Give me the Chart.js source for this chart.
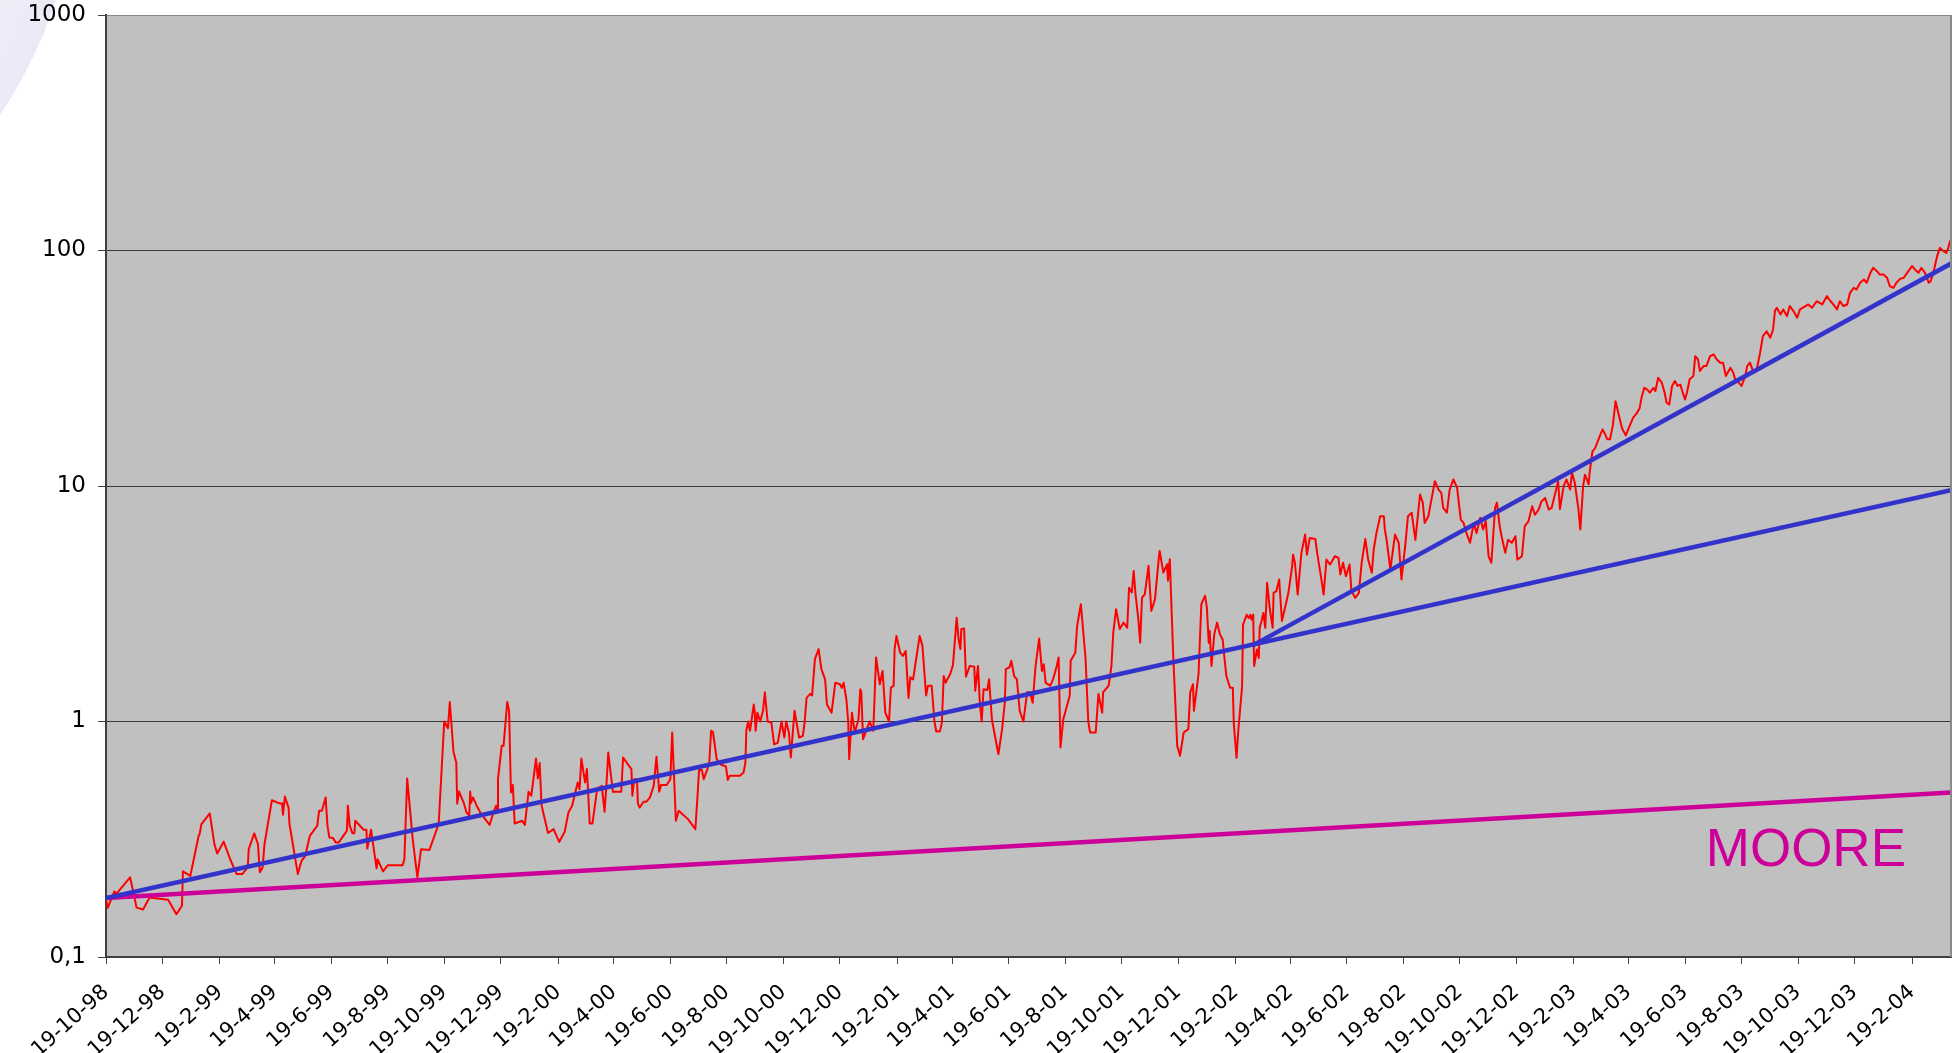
<!DOCTYPE html>
<html>
<head>
<meta charset="utf-8">
<title>Rendimiento vs Moore</title>
<script src="https://cdn.jsdelivr.net/npm/chart.js@4.4.0/dist/chart.umd.min.js"></script>
<style>
  html, body { margin: 0; padding: 0; background: #ffffff; overflow: hidden; }
  #wrap { position: relative; width: 1959px; height: 1053px; }
  #swoosh {
    position: absolute; left: -880px; top: -630px; width: 960px; height: 960px;
    border-radius: 50%;
    background: radial-gradient(circle closest-side, #f8f8fd 0%, #f1f1fa 80%, #eaeaf7 100%);
  }
  #chart { position: absolute; left: 0; top: 0; }
</style>
</head>
<body>
<div id="wrap">
  <div id="swoosh"></div>
  <canvas id="chart" width="1959" height="1053"></canvas>
</div>
<script>
// x axis: days counted from 19-10-98
var tickLabels = ['19-10-98', '19-12-98', '19-2-99', '19-4-99', '19-6-99', '19-8-99', '19-10-99', '19-12-99',
  '19-2-00', '19-4-00', '19-6-00', '19-8-00', '19-10-00', '19-12-00', '19-2-01', '19-4-01', '19-6-01',
  '19-8-01', '19-10-01', '19-12-01', '19-2-02', '19-4-02', '19-6-02', '19-8-02', '19-10-02', '19-12-02',
  '19-2-03', '19-4-03', '19-6-03', '19-8-03', '19-10-03', '19-12-03', '19-2-04'];
var lastDay = 1991;

var yTickValues = [0.1, 1, 10, 100, 1000];
var yTickLabels = ['0,1', '1', '10', '100', '1000'];

// red series
var redDays = [0, 2, 9, 11, 26, 33, 40, 47, 67, 76, 82, 83, 91, 100, 101, 103, 112, 117, 120, 127, 134, 141, 147,
  153, 154, 160, 164, 166, 169, 171, 179, 188, 190, 191, 193, 197, 198, 207, 211, 215, 220, 228, 230, 233, 237,
  239, 241, 245, 248, 251, 260, 261, 263, 266, 268, 269, 278, 281, 282, 286, 289, 292, 293, 299, 304, 320, 322,
  325, 331, 336, 340, 349, 359, 365, 369, 371, 375, 378, 379, 381, 386, 389, 392, 393, 394, 396, 400,
  405, 414, 418, 421, 422, 423, 427, 429, 433, 435, 437, 439, 441, 449, 452, 456, 459, 464, 466, 468, 470, 477,
  483, 489, 495, 499, 503, 509, 511, 513, 517, 519, 522, 525, 530, 535, 538, 540, 542, 547, 556, 558, 567, 568,
  570, 573, 574, 576, 580, 583, 587, 591, 594, 597, 599, 605, 609, 611, 615, 618, 628, 636, 638, 640, 643, 645,
  649, 651, 653, 655, 659, 664, 669, 671, 673, 684, 688, 690, 691, 693, 695, 699, 700, 701, 703, 706, 709, 711,
  714, 718, 721, 725, 729, 732, 734, 737, 739, 743, 748, 752, 754, 756, 760, 762, 765, 769, 772, 776, 778, 783,
  787, 792, 794, 796, 799, 801, 802,
  805, 808, 812, 814, 815, 817, 821, 824, 828, 831, 835, 838, 841, 845, 847, 850, 851, 853, 857, 860, 863, 866,
  868, 871, 878, 881, 885, 887, 891, 894, 896, 900, 902, 904, 906, 911, 914, 918, 920, 922, 923, 926, 928, 932,
  937, 938, 941, 943, 945, 947, 951, 953, 956, 963, 967, 970, 971, 975, 977, 980, 983, 986, 990, 994, 997, 1000,
  1003, 1007, 1010, 1012, 1014, 1019, 1022, 1026, 1028, 1030, 1033, 1040, 1041, 1046, 1048, 1052, 1057, 1060,
  1062, 1068, 1071, 1075, 1076, 1082, 1085, 1087, 1090, 1094, 1098, 1102, 1104, 1107, 1109, 1111, 1114, 1116,
  1118, 1121, 1125, 1128, 1132, 1136, 1137, 1141, 1145, 1146, 1148, 1150, 1152, 1156, 1159, 1163, 1168, 1170,
  1173, 1174, 1179, 1182, 1186, 1188, 1190, 1191, 1193, 1196, 1199, 1202,
  1205, 1207, 1209, 1213, 1216, 1217, 1220, 1222, 1226, 1227, 1231, 1233, 1235, 1236, 1238, 1239, 1242, 1244,
  1245, 1247, 1249, 1251, 1253, 1256, 1259, 1260, 1263, 1266, 1269, 1271, 1276, 1280, 1281, 1283, 1286, 1290,
  1294, 1296, 1299, 1305, 1307, 1311, 1314, 1317, 1321, 1326, 1330, 1332, 1335, 1338, 1342, 1344, 1348, 1352,
  1355, 1359, 1362, 1366, 1368, 1371, 1375, 1379, 1380, 1382, 1386, 1391, 1395, 1398, 1402, 1405, 1409, 1413,
  1418, 1421, 1423, 1427, 1431, 1434, 1438, 1441, 1443, 1447, 1450, 1454, 1458, 1462, 1465, 1468, 1472, 1476,
  1479, 1483, 1486, 1489, 1492, 1495, 1499, 1501, 1504, 1506, 1510, 1513, 1517, 1521, 1523, 1528, 1531, 1535,
  1539, 1542, 1546, 1549, 1553, 1557, 1560, 1564, 1567, 1569, 1573, 1576, 1580, 1582, 1585, 1589, 1591, 1594,
  1596, 1598, 1600, 1601, 1604, 1607, 1609, 1612,
  1615, 1618, 1620, 1623, 1626, 1629, 1632, 1636, 1640, 1645, 1648, 1652, 1655, 1657, 1660, 1663, 1666, 1670,
  1672, 1675, 1679, 1682, 1684, 1687, 1690, 1693, 1696, 1699, 1701, 1704, 1706, 1709, 1713, 1715, 1718, 1720,
  1724, 1727, 1731, 1735, 1738, 1742, 1745, 1748, 1753, 1756, 1758, 1762, 1765, 1769, 1771, 1774, 1778, 1781,
  1785, 1788, 1792, 1796, 1799, 1801, 1803, 1807, 1810, 1814, 1817, 1821, 1825, 1828, 1834, 1837, 1841, 1846,
  1852, 1857, 1861, 1864, 1868, 1871, 1875, 1879, 1882, 1886, 1889, 1893, 1897, 1900, 1904, 1907, 1911, 1914,
  1918, 1922, 1925, 1929, 1932, 1936, 1940, 1945, 1949, 1952, 1956, 1959, 1963, 1967, 1969, 1972, 1976, 1979,
  1983, 1986, 1988, 1990, 1991];

var redValues = [0.175, 0.162, 0.19, 0.185, 0.218, 0.162, 0.159, 0.179, 0.175, 0.152, 0.165, 0.231, 0.221, 0.327,
  0.332, 0.367, 0.407, 0.301, 0.275, 0.309, 0.26, 0.225, 0.225, 0.24, 0.287, 0.335, 0.301, 0.229, 0.24, 0.301,
  0.463, 0.448, 0.448, 0.402, 0.48, 0.431, 0.367, 0.225, 0.256, 0.269, 0.327, 0.361, 0.418, 0.418, 0.476, 0.361,
  0.322, 0.32, 0.306, 0.306, 0.344, 0.439, 0.361, 0.335, 0.335, 0.379, 0.347, 0.347, 0.289, 0.347, 0.287, 0.238,
  0.26, 0.231, 0.245, 0.245, 0.26, 0.573, 0.316, 0.218, 0.287, 0.285, 0.367, 1.0, 0.937, 1.21, 0.743, 0.67, 0.448,
  0.504, 0.452, 0.411, 0.398, 0.504, 0.452, 0.476, 0.439,
  0.404, 0.364, 0.411, 0.439, 0.424, 0.569, 0.788, 0.788, 1.21, 1.11, 0.5, 0.537, 0.369, 0.379, 0.364, 0.503,
  0.484, 0.696, 0.573, 0.666, 0.441, 0.336, 0.349, 0.308, 0.34, 0.411, 0.439, 0.551, 0.516, 0.696, 0.551, 0.628,
  0.369, 0.369, 0.516, 0.533, 0.414, 0.533, 0.739, 0.503, 0.503, 0.703, 0.628, 0.484, 0.569, 0.569, 0.446, 0.431,
  0.456, 0.456, 0.476, 0.533, 0.708, 0.503, 0.537, 0.537, 0.569, 0.898, 0.379, 0.418, 0.385, 0.349, 0.461, 0.623,
  0.623, 0.569, 0.628, 0.67, 0.913, 0.904, 0.692, 0.655, 0.644, 0.565, 0.588, 0.588, 0.607, 0.67, 0.913, 1.0,
  0.913, 1.18, 1.11, 0.913, 1.09, 1.0, 1.11, 1.33, 1.0, 0.99, 0.8, 0.814, 1.0, 0.855, 1.0, 0.898, 0.703, 1.11,
  0.855, 0.869, 1.0, 1.26, 1.31, 1.29, 1.84, 2.03, 1.67, 1.51, 1.18, 1.09, 1.46, 1.44, 1.39, 1.46, 1.24, 0.99,
  0.692,
  1.09, 0.898, 1.02, 1.37, 1.34, 0.841, 0.928, 1.0, 0.913, 1.87, 1.44, 1.64, 1.09, 1.0, 1.39, 1.42, 2.03, 2.31,
  1.96, 1.9, 1.99, 1.26, 1.54, 1.51, 2.31, 2.1, 1.29, 1.42, 1.42, 1.0, 0.907, 0.91, 0.99, 1.56, 1.46, 1.59, 1.74,
  2.76, 2.24, 2.03, 2.47, 2.48, 1.55, 1.72, 1.71, 1.35, 1.72, 1.2, 1.0, 1.37, 1.36, 1.51, 1.02, 0.726, 0.928,
  1.21, 1.67, 1.7, 1.81, 1.56, 1.51, 1.11, 1.0, 1.33, 1.33, 1.2, 1.7, 2.25, 1.64, 1.75, 1.46, 1.42, 1.51, 1.72,
  1.87, 0.776, 1.02, 1.29, 1.81, 1.96, 2.55, 3.15, 1.87, 1.0, 0.898, 0.898, 1.31, 1.09, 1.33, 1.42, 1.72, 2.39,
  3.0, 2.47, 2.63, 2.5, 3.7, 3.53, 4.36, 3.47, 2.72, 2.16, 3.36, 3.47, 4.58, 2.95, 3.31, 4.89, 5.3, 4.29, 4.65,
  3.96, 4.89, 2.9, 1.78, 0.788, 0.715, 0.898, 0.928, 1.33, 1.44, 1.11, 1.59, 3.15, 3.42, 3.05, 2.16, 2.43, 1.72,
  2.35, 2.63, 2.35,
  2.23, 1.86, 1.56, 1.39, 1.39, 0.987, 0.701, 0.925, 1.41, 2.58, 2.84, 2.75, 2.84, 2.71, 2.84, 1.72, 2.02, 1.86,
  2.5, 2.67, 2.89, 2.5, 3.88, 2.99, 2.5, 3.52, 3.58, 4.01, 2.67, 2.89, 3.52, 4.57, 5.11, 4.72, 3.46, 5.2, 6.22,
  5.11, 6.02, 5.96, 5.2, 4.14, 3.46, 4.87, 4.64, 5.03, 4.95, 4.21, 4.72, 4.14, 4.64, 3.58, 3.35, 3.52, 4.72, 5.96,
  4.87, 4.28, 5.36, 6.32, 7.44, 7.44, 6.54, 5.91, 4.42, 6.22, 5.74, 4.01, 5.56, 7.44, 7.7, 5.91, 9.2, 8.5, 6.97,
  7.44, 9.06, 10.48, 9.66, 9.35, 8.07, 7.7, 9.66, 10.66, 9.85, 7.2, 6.97, 6.32, 5.74, 6.97, 6.32, 7.33, 6.54,
  7.08, 5.03, 4.72, 8.07, 8.5, 6.75, 6.12, 5.2, 5.91, 5.74, 6.12, 4.87, 5.03, 6.75, 7.08, 8.2, 7.55, 7.94, 8.6,
  8.9, 7.94, 8.07, 9.35, 10.48, 7.97, 9.99, 10.66, 9.66, 11.37, 10.33, 7.94, 6.54, 9.99, 11.17, 10.66, 10.17,
  11.37, 14.0, 14.5, 15.2, 16.3,
  17.4, 16.5, 15.8, 15.8, 18.0, 22.9, 20.4, 17.6, 16.4, 18.3, 19.5, 20.4, 21.4, 23.7, 26.1, 25.7, 24.9, 26.1,
  25.3, 28.8, 27.4, 24.9, 22.6, 22.2, 26.6, 27.9, 26.6, 26.9, 25.3, 23.3, 24.9, 28.4, 29.3, 35.6, 34.5, 30.8,
  32.3, 32.3, 35.6, 36.2, 34.5, 33.4, 33.4, 29.3, 31.8, 30.3, 28.4, 27.4, 26.6, 29.3, 32.3, 33.4, 30.3, 30.8,
  36.8, 43.3, 45.4, 42.6, 46.2, 55.3, 57.1, 53.5, 56.2, 52.6, 58.1, 55.3, 51.8, 56.2, 58.1, 59.0, 57.1, 60.9,
  59.0, 64.0, 60.9, 59.0, 56.2, 60.9, 58.1, 59.0, 66.1, 69.4, 68.3, 72.9, 75.3, 72.9, 80.4, 84.4, 81.7, 79.1,
  79.1, 76.6, 70.5, 69.4, 72.9, 75.8, 76.6, 81.7, 85.8, 83.1, 80.4, 84.4, 80.4, 72.9, 74.1, 80.4, 94.6, 102.6,
  99.3, 97.7, 102.6, 109.5, 111.4];

// trend lines
var trendDays = [0, 1991];
var trendValues = [0.178, 9.6];
var trend2Days = [1238, 1991];
var trend2Values = [2.11, 88];
var mooreDays = [0, 1991];
var mooreValues = [0.178, 0.5];
var mooreLabel = 'MOORE';
var mooreLabelValue = 0.243;

var startDate = Date.UTC(1998, 9, 19);
function dayOf(label) {
  var p = label.split('-');
  var yy = +p[2];
  var year = yy < 50 ? 2000 + yy : 1900 + yy;
  return Math.round((Date.UTC(year, +p[1] - 1, +p[0]) - startDate) / 86400000);
}
var tickDays = tickLabels.map(dayOf);

function toPoints(days, vals) {
  var pts = [];
  for (var i = 0; i < days.length; i++) {
    pts.push({x: days[i], y: vals[i]});
  }
  return pts;
}

var yFont = {family: 'DejaVu Sans', size: 23};
var xFont = {family: 'DejaVu Sans', size: 21};

// gray plot area + right border + MOORE label
var plotDecor = {
  id: 'plotDecor',
  beforeDraw: function (chart) {
    var a = chart.chartArea, ctx = chart.ctx;
    ctx.save();
    ctx.fillStyle = '#c0c0c0';
    ctx.fillRect(a.left, a.top, a.right - a.left, a.bottom - a.top);
    ctx.restore();
  },
  afterDatasetsDraw: function (chart) {
    var a = chart.chartArea, ctx = chart.ctx;
    ctx.save();
    ctx.strokeStyle = '#8a8a8a';
    ctx.lineWidth = 2;
    ctx.beginPath();
    ctx.moveTo(a.right, a.top);
    ctx.lineTo(a.right, a.bottom);
    ctx.stroke();
    ctx.fillStyle = '#cc0099';
    ctx.font = '53px "Liberation Sans", Arial, sans-serif';
    ctx.textAlign = 'right';
    ctx.textBaseline = 'alphabetic';
    ctx.fillText(mooreLabel, a.right - 45, chart.scales.y.getPixelForValue(mooreLabelValue));
    ctx.restore();
  }
};

new Chart(document.getElementById('chart'), {
  type: 'line',
  data: {
    datasets: [{
      data: toPoints(trendDays, trendValues),
      borderColor: '#3333cc',
      borderWidth: 4.5,
      order: 1
    }, {
      data: toPoints(trend2Days, trend2Values),
      borderColor: '#3333cc',
      borderWidth: 4.5,
      order: 1
    }, {
      data: toPoints(mooreDays, mooreValues),
      borderColor: '#cc0099',
      borderWidth: 4.5,
      order: 1
    }, {
      data: toPoints(redDays, redValues),
      borderColor: '#ff0000',
      borderWidth: 2,
      order: 2
    }]
  },
  options: {
    responsive: false,
    animation: false,
    events: [],
    layout: {padding: {top: 15, right: 8, left: 0, bottom: 0}},
    elements: {
      point: {radius: 0},
      line: {tension: 0, fill: false, borderJoinStyle: 'round'}
    },
    plugins: {
      legend: {display: false},
      tooltip: {enabled: false}
    },
    scales: {
      x: {
        type: 'linear',
        min: 0,
        max: lastDay,
        afterBuildTicks: function (scale) {
          scale.ticks = tickDays.map(function (d) { return {value: d}; });
        },
        afterFit: function (scale) {
          scale.height = 96;
          scale.paddingLeft = 0;
          scale.paddingRight = 0;
        },
        grid: {drawOnChartArea: false, drawTicks: true, tickLength: 7, color: '#404040'},
        border: {color: '#404040', width: 2},
        ticks: {
          autoSkip: false,
          maxRotation: 42,
          minRotation: 42,
          padding: 16,
          color: '#000000',
          font: xFont,
          callback: function (value, index) { return tickLabels[index]; }
        }
      },
      y: {
        type: 'logarithmic',
        min: 0.1,
        max: 1000,
        afterBuildTicks: function (scale) {
          scale.ticks = yTickValues.map(function (v) { return {value: v}; });
        },
        afterFit: function (scale) {
          scale.width = 106;
          scale.paddingTop = 0;
          scale.paddingBottom = 0;
        },
        grid: {
          color: function (c) { return c.tick && c.tick.value === 1000 ? '#8a8a8a' : '#3a3a3a'; },
          lineWidth: 1,
          tickLength: 8,
          tickColor: '#404040'
        },
        border: {color: '#404040', width: 2},
        ticks: {
          padding: 12,
          color: '#000000',
          font: yFont,
          callback: function (value, index) { return yTickLabels[index]; }
        }
      }
    }
  },
  plugins: [plotDecor]
});
</script>
</body>
</html>
